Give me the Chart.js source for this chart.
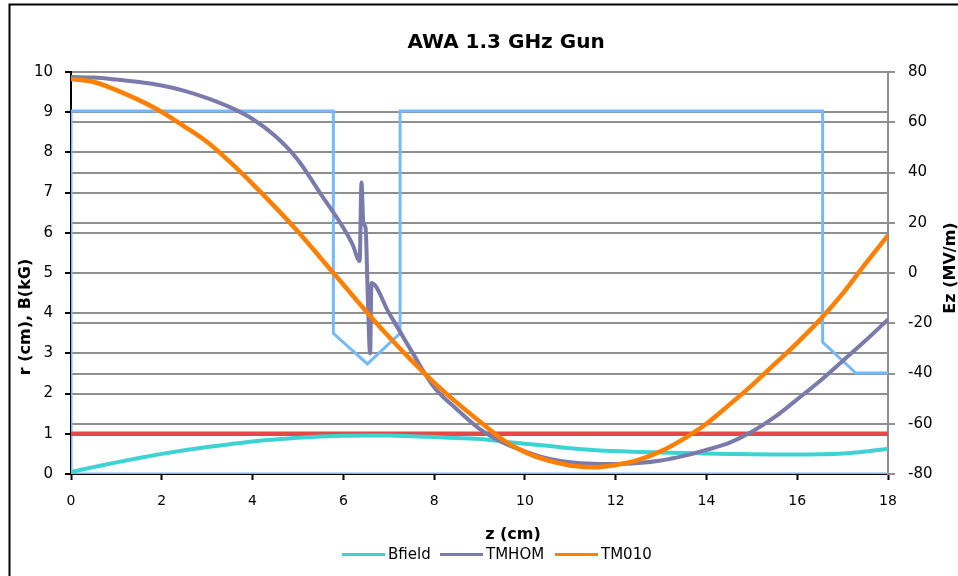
<!DOCTYPE html>
<html>
<head>
<meta charset="utf-8">
<title>AWA 1.3 GHz Gun</title>
<script src="https://cdn.jsdelivr.net/npm/chart.js@4/dist/chart.umd.min.js"></script>
<style>
  html, body { margin: 0; padding: 0; background: #ffffff; }
  #wrap { position: relative; width: 958px; height: 576px; }
  canvas { display: block; }
</style>
</head>
<body>
<div id="wrap"><canvas id="gun" width="958" height="576"></canvas></div>
<script>
// Field samples along the gun axis, z in cm
const zGrid = [0, 0.5, 1, 1.5, 2, 2.5, 3, 3.5, 4, 4.5, 5, 5.5, 6, 6.5, 7, 7.5, 8, 8.5, 9,
               9.5, 10, 10.5, 11, 11.5, 12, 12.5, 13, 13.5, 14, 14.5, 15, 15.5, 16, 16.5, 17, 17.5, 18];

// Solenoid field on axis, kG
const bfield = [0.05, 0.17, 0.29, 0.40, 0.50, 0.59, 0.67, 0.74, 0.81, 0.86, 0.90, 0.93, 0.95, 0.96, 0.955, 0.94, 0.92, 0.895, 0.87,
                0.81, 0.75, 0.70, 0.64, 0.595, 0.57, 0.55, 0.535, 0.52, 0.51, 0.50, 0.49, 0.485, 0.485, 0.49, 0.51, 0.56, 0.63];

// Accelerating mode on axis, MV/m
const tm010 = [77.2, 76.0, 72.8, 68.8, 64.1, 58.3, 52.1, 44.2, 35.5, 26.2, 16.5, 6.0, -4.6, -15.2, -25.3, -34.8, -43.6, -51.6, -59.0,
               -66.2, -71.3, -74.6, -76.6, -77.3, -76.4, -74.4, -70.9, -66.0, -60.0, -52.5, -44.7, -36.3, -27.8, -18.6, -8.2, 3.6, 15.0];

// Higher-order mode on axis, MV/m (with the iris-region spike)
const homZ = [0, 0.5, 1, 1.5, 2, 2.5, 3, 3.5, 4, 4.5, 5, 5.5, 6, 6.2, 6.36, 6.40, 6.44, 6.49, 6.54, 6.59, 6.62,
              7, 7.5, 8, 8.5, 9, 9.5, 10, 10.5, 11, 11.5, 12, 12.5, 13, 13.5, 14, 14.5, 15, 15.5, 16, 16.5, 17, 17.5, 18];
const tmhom = [78.0, 77.8, 77.0, 76.0, 74.6, 72.5, 69.6, 66.0, 61.3, 54.5, 45.0, 31.5, 18.0, 11.5, 4.8, 36.0, 20.0, 18.0, -10.0, -32.0, -4.0,
               -15.7, -31.0, -45.5, -54.2, -62.0, -67.3, -71.0, -73.8, -75.3, -75.9, -76.0, -75.6, -74.6, -72.8, -70.4, -67.6, -63.2, -57.4, -50.3, -43.0, -35.0, -27.0, -18.5];

// Cavity wall profile r(z), cm
const wallZ = [18, 0, 0, 5.78, 5.78, 6.53, 7.25, 7.25, 16.56, 16.56, 17.29, 18];
const wallR = [0, 0, 9.03, 9.03, 3.5, 2.74, 3.5, 9.03, 9.03, 3.28, 2.51, 2.51];

// Reference radius line, cm
const refZ = [0, 18];
const refR = [1, 1];

// Tick settings
const zTicks = { min: 0, max: 18, step: 2 };
const rTicks = { min: 0, max: 10, step: 1 };
const eTicks = { min: -80, max: 80, step: 20 };

const pts = (xs, ys) => xs.map((x, i) => ({ x: x, y: ys[i] }));

const FONT = "'DejaVu Sans', Verdana, sans-serif";
const GRID = '#8f8f8f';

const legendItems = [
  { label: 'Bfield', color: '#3dd3d3' },
  { label: 'TMHOM', color: '#7a7aab' },
  { label: 'TM010', color: '#ff8000' }
];

const decor = {
  id: 'decor',
  beforeDraw(chart) {
    const c = chart.ctx;
    c.save();
    c.fillStyle = '#ffffff';
    c.fillRect(0, 0, chart.width, chart.height);
    // outer frame
    c.strokeStyle = '#000000';
    c.lineWidth = 2;
    c.beginPath();
    c.moveTo(9.5, 576);
    c.lineTo(9.5, 4.5);
    c.lineTo(958, 4.5);
    c.stroke();
    c.restore();
  },
  afterDraw(chart) {
    const c = chart.ctx;
    c.save();
    c.fillStyle = '#000000';
    c.textAlign = 'center';
    c.textBaseline = 'middle';
    // chart title
    c.font = 'bold 20px ' + FONT;
    c.fillText('AWA 1.3 GHz Gun', 506, 43);
    // axis titles
    c.font = 'bold 16px ' + FONT;
    c.fillText('z (cm)', 513, 535);
    c.save();
    c.translate(26, 317);
    c.rotate(-Math.PI / 2);
    c.fillText('r (cm), B(kG)', 0, 0);
    c.restore();
    c.save();
    c.translate(951, 268);
    c.rotate(-Math.PI / 2);
    c.fillText('Ez (MV/m)', 0, 0);
    c.restore();
    // legend
    c.font = '15px ' + FONT;
    c.textAlign = 'left';
    const starts = [342, 440, 555];
    legendItems.forEach((it, i) => {
      const x0 = starts[i];
      c.strokeStyle = it.color;
      c.lineWidth = 3;
      c.beginPath();
      c.moveTo(x0, 554.5);
      c.lineTo(x0 + 43, 554.5);
      c.stroke();
      c.fillStyle = '#000000';
      c.fillText(it.label, x0 + 46, 555);
    });
    c.restore();
  }
};

new Chart(document.getElementById('gun'), {
  type: 'line',
  data: {
    datasets: [
      { label: 'TM010', data: pts(zGrid, tm010), yAxisID: 'yE', borderColor: '#ff8000', borderWidth: 4.5, cubicInterpolationMode: 'monotone' },
      { label: 'TMHOM', data: pts(homZ, tmhom), yAxisID: 'yE', borderColor: '#7a7aab', borderWidth: 4, cubicInterpolationMode: 'monotone' },
      { label: 'Bfield', data: pts(zGrid, bfield), yAxisID: 'yR', borderColor: '#3dd3d3', borderWidth: 4, cubicInterpolationMode: 'monotone' },
      { label: 'r0', data: pts(refZ, refR), yAxisID: 'yR', borderColor: '#e64848', borderWidth: 4.5, tension: 0 },
      { label: 'wall', data: pts(wallZ, wallR), yAxisID: 'yR', borderColor: '#76b9fa', borderWidth: 3, tension: 0 }
    ]
  },
  options: {
    responsive: false,
    animation: false,
    parsing: true,
    elements: { point: { radius: 0, hoverRadius: 0 }, line: { fill: false } },
    layout: { padding: { left: 0, right: 0, top: 72, bottom: 0 } },
    plugins: { legend: { display: false }, title: { display: false }, tooltip: { enabled: false } },
    events: [],
    scales: {
      x: {
        type: 'linear', position: 'bottom',
        min: zTicks.min, max: zTicks.max,
        ticks: { stepSize: zTicks.step, color: '#000000', font: { family: FONT, size: 14 }, padding: 13, maxRotation: 0 },
        grid: { drawOnChartArea: false, drawTicks: true, tickLength: 6, tickColor: '#000000', tickWidth: 2 },
        border: { display: true, color: '#000000', width: 2 },
        afterFit(s) { s.height = 102; }
      },
      yR: {
        type: 'linear', position: 'left',
        min: rTicks.min, max: rTicks.max,
        ticks: { stepSize: rTicks.step, color: '#000000', font: { family: FONT, size: 15 }, padding: 12 },
        grid: { color: GRID, lineWidth: 2, drawTicks: true, tickLength: 6, tickColor: '#000000', tickWidth: 2 },
        border: { display: true, color: '#000000', width: 2 },
        afterFit(s) { s.width = 71; }
      },
      yE: {
        type: 'linear', position: 'right',
        min: eTicks.min, max: eTicks.max,
        ticks: { stepSize: eTicks.step, color: '#000000', font: { family: FONT, size: 15 }, padding: 13 },
        grid: { color: GRID, lineWidth: 2, drawTicks: true, tickLength: 7, tickColor: GRID, tickWidth: 2 },
        border: { display: true, color: GRID, width: 2 },
        afterFit(s) { s.width = 70; }
      }
    }
  },
  plugins: [decor]
});
</script>
</body>
</html>
